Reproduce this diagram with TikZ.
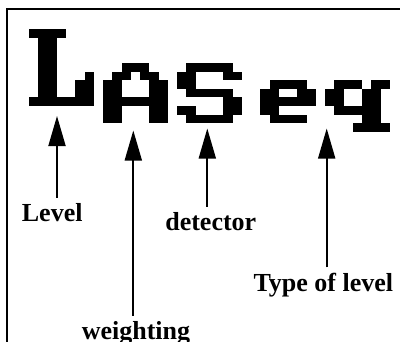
\documentclass[tikz,border=0pt]{standalone}
\usepackage{fontspec}
\setmainfont{Liberation Serif}
\usetikzlibrary{arrows.meta}
\newcommand\pixrect[4]{\fill ({29+(#1)*9.25},{29+(#2)*8.55}) rectangle ++({(#3)*9.25},{(#4)*8.55});}
\tikzset{
  lbl/.style={anchor=base,inner sep=0pt,font=\fontsize{26}{30}\selectfont\bfseries},
  arr/.style={line width=1.8pt,-{Triangle[width=17pt,length=30pt]},shorten <=5pt},
  frame/.style={line width=2.3pt,line join=miter}
}
\begin{document}
\begin{tikzpicture}[x=1pt,y=-1pt]
\useasboundingbox (0,0) rectangle (400,341);
% frame
\draw[frame] (401,9) -- (6.8,9) -- (6.8,342);
% L
\pixrect{0}{0}{4}{1}
\pixrect{1}{1}{2}{7}
\pixrect{0}{8}{7}{1}
\pixrect{5}{6}{2}{2}
\pixrect{6}{5}{1}{1}
% A
\pixrect{10}{4}{3}{1}
\pixrect{9}{5}{2}{1}
\pixrect{12}{5}{2}{1}
\pixrect{8}{6}{2}{2}
\pixrect{13}{6}{2}{2}
\pixrect{8}{8}{7}{1}
\pixrect{8}{9}{2}{2}
\pixrect{13}{9}{2}{2}
% S
\pixrect{17}{4}{5}{1}
\pixrect{16}{5}{2}{1}
\pixrect{21}{5}{2}{1}
\pixrect{16}{6}{2}{1}
\pixrect{17}{7}{5}{1}
\pixrect{21}{8}{2}{2}
\pixrect{16}{9}{2}{1}
\pixrect{17}{10}{5}{1}
% e
\pixrect{26}{6}{4}{1}
\pixrect{25}{7}{2}{1}
\pixrect{29}{7}{2}{1}
\pixrect{25}{8}{6}{1}
\pixrect{25}{9}{2}{1}
\pixrect{26}{10}{4}{1}
% q
\pixrect{33}{6}{3}{1}
\pixrect{37}{6}{2}{1}
\pixrect{32}{7}{2}{2}
\pixrect{36}{7}{2}{4}
\pixrect{33}{9}{3}{1}
\pixrect{35}{11}{4}{1}
% labels
\node[lbl] (level) at (52.2,221) {Level};
\node[lbl] (weighting) at (136,339) {weighting};
\node[lbl] (detector) at (210.8,230) {detector};
\node[lbl] (type) at (323.3,291) {Type of level};
% arrow tips
\coordinate (tipL) at (57,116);
\coordinate (tipW) at (133.3,130.5);
\coordinate (tipD) at (207.3,128.5);
\coordinate (tipT) at (326.7,128.5);
\draw[arr] (tipL |- level.north) -- (tipL);
\draw[arr] (tipW |- weighting.north) -- (tipW);
\draw[arr] (tipD |- detector.north) -- (tipD);
\draw[arr] (tipT |- type.north) -- (tipT);
\end{tikzpicture}
\end{document}
